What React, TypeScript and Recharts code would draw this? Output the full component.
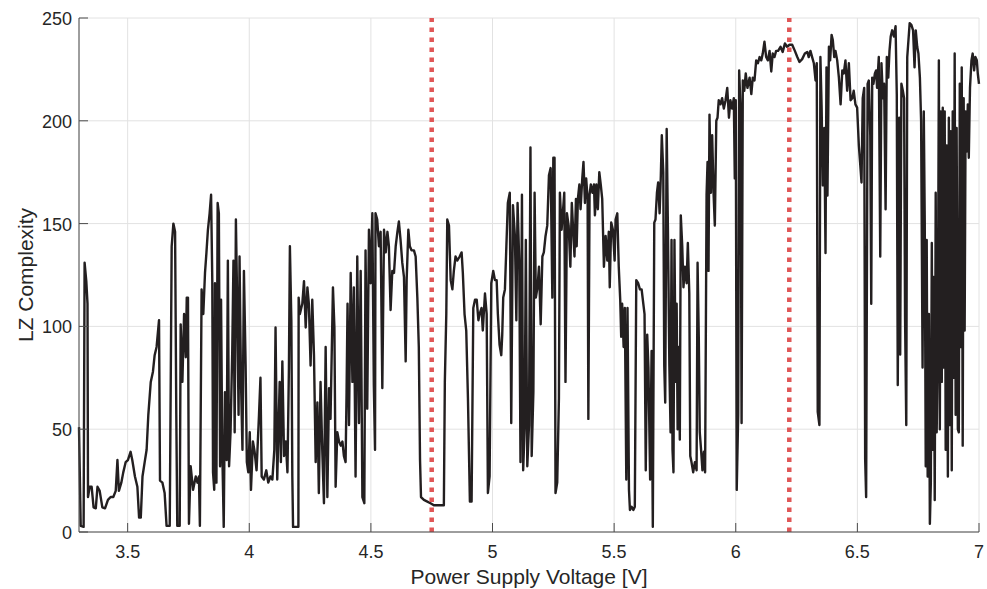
import { LineChart, Line, XAxis, YAxis, CartesianGrid, ReferenceLine, Label } from "recharts";

// axis ticks and the two threshold voltages
const xTicks = [3.5, 4, 4.5, 5, 5.5, 6, 6.5, 7];
const yTicks = [0, 50, 100, 150, 200, 250];
const thresholds = [4.75, 6.22];

const sweep33to37: [number, number][] = [
  [3.300, 51], [3.307, 3], [3.319, 2.5], [3.323, 131], [3.330, 122], [3.335, 111], [3.337, 17], [3.344, 22],
  [3.352, 22], [3.360, 12], [3.369, 11.5], [3.376, 22], [3.385, 20], [3.396, 12], [3.407, 11.5], [3.419, 15.6],
  [3.430, 17], [3.441, 17], [3.451, 20], [3.458, 35], [3.464, 20], [3.474, 24], [3.482, 29], [3.492, 34],
  [3.501, 35], [3.512, 39], [3.519, 35], [3.530, 27], [3.540, 22], [3.547, 7], [3.554, 7], [3.561, 27],
  [3.570, 34], [3.578, 40], [3.585, 57], [3.595, 73], [3.604, 78], [3.611, 86], [3.619, 90], [3.629, 103],
  [3.633, 25], [3.643, 24], [3.652, 19], [3.660, 3], [3.673, 3], [3.681, 139], [3.688, 150], [3.695, 146],
  [3.700, 57], [3.704, 3], [3.714, 3],
];

const sweep37to41: [number, number][] = [
  [3.718, 101], [3.725, 73], [3.732, 106], [3.739, 85], [3.743, 114], [3.748, 114], [3.752, 4], [3.759, 32],
  [3.769, 20.5], [3.780, 27], [3.787, 24], [3.793, 27], [3.797, 3], [3.804, 118], [3.811, 106], [3.818, 126],
  [3.824, 136], [3.830, 147], [3.837, 155], [3.843, 164], [3.848, 122], [3.851, 29], [3.856, 20.5], [3.859, 121],
  [3.865, 24], [3.870, 160], [3.875, 155], [3.880, 32], [3.884, 113], [3.889, 40], [3.895, 2.5], [3.900, 68],
  [3.907, 35], [3.912, 132], [3.917, 32], [3.923, 48.5], [3.930, 88], [3.935, 132], [3.940, 48.5], [3.945, 152],
  [3.951, 106], [3.956, 57], [3.960, 134], [3.966, 73], [3.972, 40], [3.978, 127], [3.985, 81], [3.990, 34],
  [3.996, 29], [4.002, 48.5], [4.007, 20.5], [4.015, 44], [4.022, 39], [4.030, 30], [4.040, 57], [4.046, 75],
  [4.051, 27], [4.060, 25.5], [4.070, 30], [4.078, 24], [4.087, 27], [4.095, 25.5], [4.103, 40],
];

const sweep41to49: [number, number][] = [
  [4.108, 99.5], [4.115, 25.5], [4.125, 73], [4.130, 34], [4.136, 83], [4.143, 37], [4.150, 44], [4.157, 29],
  [4.163, 80], [4.167, 139], [4.173, 103], [4.177, 27], [4.180, 2.5], [4.202, 2.5], [4.203, 114], [4.208, 106],
  [4.218, 111], [4.225, 122], [4.232, 99.5], [4.239, 119], [4.245, 111], [4.252, 81], [4.259, 113], [4.266, 86],
  [4.273, 34], [4.280, 63], [4.286, 19], [4.293, 73], [4.300, 40], [4.307, 14], [4.314, 90], [4.321, 17],
  [4.328, 70], [4.334, 55], [4.344, 119], [4.350, 99.5], [4.355, 22], [4.362, 48.5], [4.369, 44], [4.376, 42],
  [4.383, 44], [4.389, 37], [4.396, 34], [4.400, 68], [4.404, 111], [4.410, 52], [4.417, 126], [4.424, 73],
  [4.430, 119], [4.437, 27], [4.444, 134], [4.451, 53], [4.458, 127], [4.465, 17], [4.473, 14], [4.478, 137],
  [4.485, 60], [4.492, 147], [4.499, 121], [4.506, 155], [4.512, 71.5], [4.517, 40], [4.519, 155], [4.526, 152],
  [4.533, 139], [4.540, 146], [4.547, 70], [4.554, 147], [4.561, 136], [4.568, 146], [4.574, 139], [4.581, 108],
  [4.588, 127], [4.595, 126], [4.602, 139], [4.609, 146], [4.615, 151], [4.622, 142], [4.629, 131], [4.636, 124],
  [4.643, 83], [4.647, 122.5], [4.654, 147], [4.660, 139], [4.667, 137], [4.677, 137], [4.684, 134], [4.691, 114],
  [4.697, 90], [4.702, 35], [4.706, 17], [4.718, 15.6], [4.732, 14.8], [4.745, 14], [4.759, 13], [4.773, 13],
  [4.787, 13], [4.800, 13], [4.804, 73], [4.810, 106], [4.814, 152], [4.821, 149], [4.828, 122.5], [4.835, 118],
  [4.841, 127], [4.848, 134], [4.855, 132], [4.865, 134], [4.873, 136], [4.878, 126], [4.885, 106], [4.892, 98],
  [4.899, 65], [4.907, 14.8], [4.914, 14.8], [4.921, 109], [4.928, 113], [4.935, 113], [4.942, 103],
];

const sweep49to575: [number, number][] = [
  [4.947, 106], [4.955, 109], [4.960, 98], [4.969, 116], [4.976, 106], [4.981, 19], [4.988, 27], [4.995, 121],
  [5.003, 127], [5.010, 122.5], [5.017, 122.5], [5.022, 106], [5.029, 91], [5.036, 86], [5.040, 96], [5.044, 114],
  [5.051, 118], [5.057, 139], [5.063, 160], [5.071, 165], [5.077, 53], [5.084, 159], [5.092, 144], [5.098, 103],
  [5.103, 160], [5.110, 131], [5.115, 34], [5.121, 164], [5.126, 30], [5.132, 50], [5.137, 142], [5.143, 32],
  [5.150, 52], [5.156, 187], [5.161, 37], [5.168, 68], [5.173, 165], [5.178, 114], [5.185, 119], [5.191, 129],
  [5.198, 101], [5.205, 134], [5.211, 136], [5.218, 144], [5.225, 149], [5.232, 173.5], [5.239, 177], [5.246, 114],
  [5.250, 182], [5.255, 182], [5.259, 19], [5.266, 24], [5.273, 65], [5.277, 165], [5.284, 147], [5.289, 155],
  [5.295, 165], [5.300, 73], [5.306, 155], [5.313, 149], [5.320, 129], [5.326, 160], [5.332, 146], [5.337, 134],
  [5.343, 162], [5.346, 139], [5.351, 162], [5.357, 169], [5.362, 157], [5.369, 172], [5.374, 180], [5.380, 160],
  [5.385, 172], [5.391, 162], [5.394, 55], [5.399, 164], [5.404, 169], [5.411, 165], [5.417, 169], [5.421, 154],
  [5.427, 169], [5.433, 157], [5.439, 175], [5.445, 169], [5.451, 162], [5.458, 129], [5.465, 144], [5.472, 132],
  [5.478, 146], [5.482, 119], [5.488, 150.5], [5.495, 147], [5.502, 132], [5.506, 152], [5.513, 155], [5.519, 129],
  [5.525, 113], [5.529, 95], [5.533, 111], [5.539, 90], [5.544, 109], [5.550, 25.5], [5.555, 109], [5.561, 20.5],
  [5.565, 10.7], [5.572, 12.3], [5.579, 10.7], [5.585, 12.3], [5.591, 122.5], [5.599, 121], [5.606, 118], [5.613, 118],
  [5.620, 111], [5.625, 106], [5.630, 30], [5.636, 96], [5.641, 80], [5.648, 25.5], [5.654, 88], [5.659, 2.5],
  [5.665, 150.5], [5.670, 152], [5.676, 165], [5.681, 170], [5.687, 155], [5.692, 173.5], [5.696, 193], [5.702, 175],
  [5.706, 81], [5.710, 63], [5.716, 196], [5.721, 149], [5.727, 81], [5.732, 48.5], [5.736, 142], [5.740, 40],
  [5.744, 29], [5.748, 142], [5.753, 73],
];

const sweep575to65: [number, number][] = [
  [5.757, 111], [5.761, 50], [5.766, 90], [5.770, 45], [5.774, 154], [5.780, 139], [5.785, 119], [5.791, 129],
  [5.798, 121], [5.803, 140.6], [5.809, 116], [5.813, 37], [5.818, 34], [5.825, 29], [5.832, 34], [5.839, 30],
  [5.843, 131], [5.848, 95], [5.852, 48.5], [5.858, 39], [5.863, 30], [5.869, 39], [5.874, 29], [5.880, 164],
  [5.884, 180], [5.888, 127], [5.892, 203], [5.898, 165], [5.903, 193], [5.909, 164], [5.914, 149], [5.920, 200],
  [5.925, 201.5], [5.930, 210], [5.937, 208], [5.944, 211], [5.951, 206], [5.958, 210], [5.965, 216], [5.972, 201.5],
  [5.978, 210], [5.985, 206], [5.992, 211], [5.996, 172], [6.000, 210], [6.004, 20.5], [6.010, 57], [6.014, 224.5],
  [6.020, 204.6], [6.024, 53], [6.029, 219.6], [6.035, 214.6], [6.041, 223], [6.048, 216], [6.057, 221], [6.064, 213],
  [6.070, 221], [6.077, 219.6], [6.084, 229.4], [6.091, 228], [6.098, 231], [6.105, 229.4], [6.111, 232.7], [6.118, 238.5],
  [6.125, 231], [6.132, 229.4], [6.139, 234], [6.146, 224], [6.152, 232.7], [6.159, 231], [6.166, 234], [6.174, 234],
  [6.184, 236], [6.193, 233.5], [6.202, 237.6], [6.211, 236], [6.221, 237], [6.232, 237], [6.243, 234], [6.253, 231],
  [6.262, 228.6], [6.273, 230], [6.284, 232.7], [6.294, 233.5], [6.300, 231], [6.307, 234], [6.314, 231], [6.321, 228],
  [6.328, 219.6], [6.333, 228], [6.337, 58.4], [6.344, 52], [6.348, 231], [6.353, 206.4], [6.358, 168.6], [6.364, 196.5],
  [6.369, 135.7], [6.373, 226], [6.377, 163.7], [6.383, 236], [6.388, 229.4], [6.394, 241.8], [6.399, 239.3], [6.405, 231],
  [6.410, 234], [6.417, 229.4], [6.424, 221], [6.431, 208], [6.438, 224.5], [6.444, 223], [6.451, 229.4], [6.458, 214.6],
  [6.465, 228], [6.472, 210], [6.479, 211], [6.485, 214.6], [6.492, 208], [6.499, 206.4],
];

const sweep65to7: [number, number][] = [
  [6.506, 188], [6.511, 180], [6.517, 170], [6.522, 211], [6.528, 216], [6.532, 35.4], [6.536, 17], [6.542, 218],
  [6.547, 219.6], [6.553, 193], [6.557, 111], [6.561, 221], [6.566, 218], [6.572, 223], [6.577, 224.5], [6.581, 216],
  [6.588, 231], [6.594, 134], [6.599, 228], [6.605, 211], [6.610, 218], [6.616, 157], [6.621, 231], [6.627, 221],
  [6.632, 234], [6.637, 241], [6.643, 244], [6.650, 241], [6.657, 246], [6.662, 213], [6.666, 71.5], [6.672, 201.5],
  [6.676, 86.3], [6.681, 218], [6.687, 214.6], [6.692, 211], [6.696, 104.4], [6.701, 52], [6.705, 231], [6.710, 239.3],
  [6.715, 247.5], [6.722, 246.7], [6.729, 244], [6.735, 226], [6.740, 244], [6.746, 236], [6.751, 232.7], [6.757, 221],
  [6.762, 200], [6.768, 80], [6.773, 204.6], [6.777, 150.5], [6.781, 32], [6.785, 142], [6.789, 27], [6.794, 106],
  [6.798, 4], [6.802, 24], [6.806, 140.6], [6.810, 40], [6.814, 124], [6.818, 15.6], [6.822, 165], [6.826, 48.5],
  [6.831, 96], [6.835, 229.4], [6.839, 50], [6.843, 204.6], [6.847, 73], [6.851, 206.4], [6.855, 80], [6.859, 204.6],
  [6.863, 40], [6.867, 188], [6.872, 27], [6.876, 201.5], [6.880, 52], [6.884, 195], [6.888, 30], [6.892, 204.6],
  [6.896, 75], [6.900, 232.7], [6.904, 57], [6.908, 196.5], [6.913, 50], [6.917, 48.5], [6.921, 218], [6.925, 90],
  [6.929, 226], [6.933, 42], [6.937, 211], [6.941, 98], [6.945, 204.6], [6.949, 185], [6.954, 208], [6.958, 182],
  [6.963, 216], [6.969, 229.4], [6.974, 232.7], [6.980, 224.5], [6.985, 231], [6.991, 229.4], [6.995, 223], [7.0, 218],
];

const data = [...sweep33to37, ...sweep37to41, ...sweep41to49, ...sweep49to575, ...sweep575to65, ...sweep65to7]
  .map(([v, lz]) => ({ v, lz }));

const INK = "#262626";
const FRAME = "#4a4a4a";
const FONT = '"Liberation Sans", Arial, Helvetica, sans-serif';
const TICK = 9;

// MATLAB style: ticks point into the plot box
const BottomTick = ({ x, y, payload }: any) => (
  <g>
    <line x1={x} y1={y} x2={x} y2={y - TICK} stroke={FRAME} />
    <text x={x} y={y + 26} textAnchor="middle" fontSize={18} fill={INK} fontFamily={FONT}>{payload.value}</text>
  </g>
);
const TopTick = ({ x, y }: any) => <line x1={x} y1={y} x2={x} y2={y + TICK} stroke={FRAME} />;
const LeftTick = ({ x, y, payload }: any) => (
  <g>
    <line x1={x} y1={y} x2={x + TICK} y2={y} stroke={FRAME} />
    <text x={x - 7} y={y + 7} textAnchor="end" fontSize={18} fill={INK} fontFamily={FONT}>{payload.value}</text>
  </g>
);
const RightTick = ({ x, y }: any) => <line x1={x} y1={y} x2={x - TICK} y2={y} stroke={FRAME} />;

export default function App() {
  return (
    <div style={{ position: "absolute", left: 0, top: 0, width: 987, height: 589, background: "#fff" }}>
      <LineChart width={987} height={589} data={data} margin={{ top: 18, right: 8, bottom: 0, left: 0 }}>
        <CartesianGrid stroke="#e2e2e2" />
        <XAxis dataKey="v" type="number" domain={[3.3, 7]} ticks={xTicks} interval={0} height={57}
          tickSize={0} tickMargin={0} tickLine={false} axisLine={{ stroke: FRAME }} tick={(p: any) => <BottomTick {...p} />}>
          <Label content={(p: any) => {
            const vb = p.viewBox ?? { x: 79, y: 532, width: 900, height: 57 };
            return (
              <text x={vb.x + vb.width / 2} y={vb.y + 52} textAnchor="middle" fontSize={21} fill={INK} fontFamily={FONT}>
                Power Supply Voltage [V]
              </text>
            );
          }} />
        </XAxis>
        <XAxis xAxisId="top" orientation="top" dataKey="v" type="number" domain={[3.3, 7]} ticks={xTicks} interval={0}
          height={0} tickSize={0} tickMargin={0} tickLine={false} axisLine={{ stroke: FRAME }} tick={(p: any) => <TopTick {...p} />} />
        <YAxis type="number" domain={[0, 250]} ticks={yTicks} interval={0} width={79}
          tickSize={0} tickMargin={0} tickLine={false} axisLine={{ stroke: FRAME }} tick={(p: any) => <LeftTick {...p} />}>
          <Label content={(p: any) => {
            const vb = p.viewBox ?? { x: 0, y: 18, width: 79, height: 514 };
            const cx = vb.x + 33;
            const cy = vb.y + vb.height / 2;
            return (
              <text x={cx} y={cy} transform={`rotate(-90 ${cx} ${cy})`} textAnchor="middle" fontSize={21} fill={INK} fontFamily={FONT}>
                LZ Complexity
              </text>
            );
          }} />
        </YAxis>
        <YAxis yAxisId="right" orientation="right" type="number" domain={[0, 250]} ticks={yTicks} interval={0} width={0}
          tickSize={0} tickMargin={0} tickLine={false} axisLine={{ stroke: FRAME }} tick={(p: any) => <RightTick {...p} />} />
        <Line type="linear" dataKey="lz" stroke="#231f20" strokeWidth={2.4} dot={false} activeDot={false}
          strokeLinejoin="round" isAnimationActive={false} />
        {thresholds.map((t) => (
          <ReferenceLine key={t} x={t} stroke="#e05656" strokeWidth={4.5} strokeDasharray="4.5 5.5" />
        ))}
      </LineChart>
    </div>
  );
}
